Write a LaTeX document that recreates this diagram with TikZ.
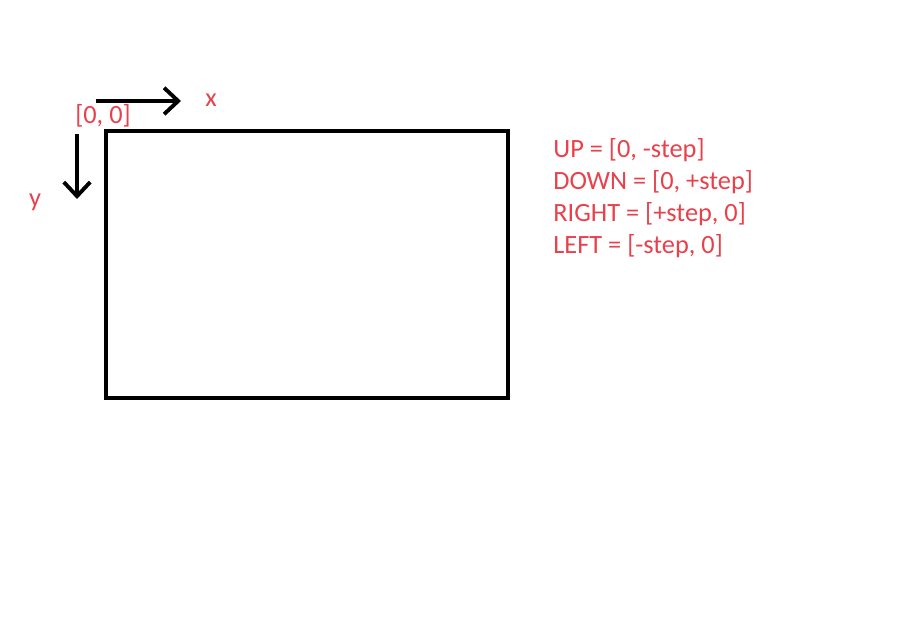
\documentclass[tikz,border=0pt]{standalone}
\usepackage{fontspec}
\setmainfont{Carlito}
\usepackage{xcolor}
\usepackage{tikz}
\usetikzlibrary{arrows.meta, positioning}
\definecolor{labelred}{RGB}{232,65,75}
\tikzset{
    frame/.style={line width=2.3pt, line join=miter},
    axisarrow/.style={line width=2.3pt, -{Straight Barb[length=8pt, width=15pt, line width=2.2pt]}},
    redlabel/.style={text=labelred, font=\fontsize{15}{18}\selectfont, inner sep=0pt},
}

\begin{document}
\begin{tikzpicture}[x=0.02cm, y=-0.02cm]
    \useasboundingbox (0,0) rectangle (914,641);
    % screen rectangle
    \draw[frame] (106,131) rectangle (508,398);
    % axes
    \coordinate (xstart) at (96,101);
    \coordinate (xend) at (181,101);
    \coordinate (ystart) at (77,134);
    \coordinate (yend) at (77,199);
    \draw[axisarrow] (xstart) -- (xend);
    \draw[axisarrow] (ystart) -- (yend);
    \node[redlabel] (xlabel) at (211,100) {x};
    \node[redlabel] (ylabel) at (35,202) {y};
    \node[redlabel] (origin) at (103,116) {[0, 0]};
    % step rules
    \foreach \rule [count=\i] in {{UP = [0, -step]}, {DOWN = [0, +step]}, {RIGHT = [+step, 0]}, {LEFT = [-step, 0]}}
        \node[redlabel, anchor=west] (rule\i) at (553,118+32*\i) {\rule};
\end{tikzpicture}
\end{document}
